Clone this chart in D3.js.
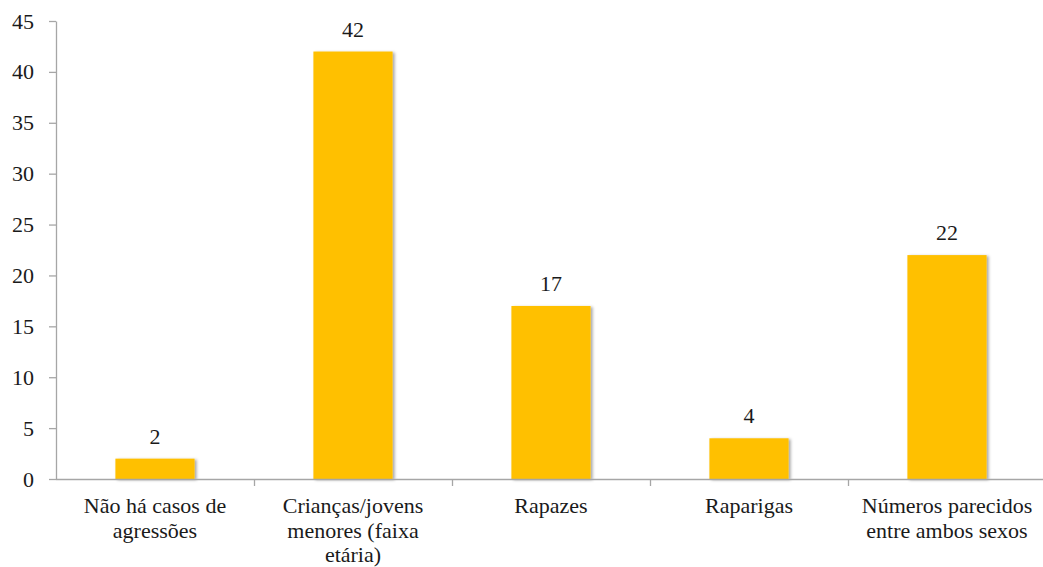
<!DOCTYPE html>
<html>
<head>
<meta charset="utf-8">
<script src="https://cdn.jsdelivr.net/npm/d3@7"></script>
<style>
body { margin: 0; background: #fff; }
</style>
</head>
<body>
<svg class="chart"></svg>
<script>
var categories = ["Não há casos de agressões", "Crianças/jovens menores (faixa etária)", "Rapazes", "Raparigas", "Números parecidos entre ambos sexos"];
var categoryLines = [
    ["Não há casos de", "agressões"],
    ["Crianças/jovens", "menores (faixa", "etária)"],
    ["Rapazes"],
    ["Raparigas"],
    ["Números parecidos", "entre ambos sexos"]
];
var values = [2, 42, 17, 4, 22];
var yTicks = [0, 5, 10, 15, 20, 25, 30, 35, 40, 45];

var fontFamily = "'Liberation Serif', 'DejaVu Serif', serif";
var fontSize = "22px";

var outerSize = {width: 1043, height: 567};
var margin = {top: 21, right: 0, bottom: 88, left: 56};
var innerSize = {width: 990, height: outerSize.height - margin.top - margin.bottom};

var svg = d3.select(".chart")
        .attr("width", outerSize.width)
        .attr("height", outerSize.height)
        .style("font-family", fontFamily);

var defs = svg.append("defs");
defs.append("filter")
        .attr("id", "shadow")
        .attr("x", "-20%").attr("y", "-20%")
        .attr("width", "140%").attr("height", "140%")
        .append("feDropShadow")
        .attr("dx", 2).attr("dy", 1)
        .attr("stdDeviation", 1.5)
        .attr("flood-color", "#000")
        .attr("flood-opacity", 0.35);

var chart = svg.append("g")
        .attr("transform", "translate(" + margin.left + "," + margin.top + ")");

var xRange = d3.scaleBand()
        .domain(categories)
        .range([0, innerSize.width])
        .padding(0);

var yRange = d3.scaleLinear()
        .domain([0, 45])
        .range([innerSize.height, 0]);

// y axis
var yAxis = chart.append("g")
        .call(d3.axisLeft(yRange).tickValues(yTicks).tickSize(7).tickPadding(15))
        .attr("font-family", null)
        .attr("font-size", null);
yAxis.select(".domain").attr("stroke", "#a6a6a6").attr("stroke-width", 1.3)
        .attr("d", "M0.5," + innerSize.height + "V0.5");
yAxis.selectAll(".tick line").attr("stroke", "#a6a6a6").attr("stroke-width", 1.3);
yAxis.selectAll(".tick text")
        .style("font-family", fontFamily)
        .style("font-size", fontSize)
        .attr("fill", "#1a1a1a");

// bars
var barWidth = xRange.bandwidth() * 0.4;
chart.selectAll(".bar")
        .data(values)
        .enter().append("rect")
        .attr("class", "bar")
        .attr("x", function (d, i) { return xRange(categories[i]) + (xRange.bandwidth() - barWidth) / 2; })
        .attr("y", function (d) { return yRange(d); })
        .attr("width", barWidth)
        .attr("height", function (d) { return innerSize.height - yRange(d); })
        .attr("fill", "#ffc000")
        .attr("filter", "url(#shadow)");

chart.selectAll(".valueLabel")
        .data(values)
        .enter().append("text")
        .attr("class", "valueLabel")
        .attr("x", function (d, i) { return xRange(categories[i]) + xRange.bandwidth() / 2; })
        .attr("y", function (d) { return yRange(d) - 15; })
        .attr("fill", "#1a1a1a")
        .style("text-anchor", "middle")
        .style("font-family", fontFamily)
        .style("font-size", fontSize)
        .text(function (d) { return d; });

// x axis: line and ticks at category boundaries
var xAxis = chart.append("g")
        .attr("transform", "translate(0," + innerSize.height + ")");
xAxis.append("line")
        .attr("x1", 0).attr("x2", innerSize.width)
        .attr("y1", 0.5).attr("y2", 0.5)
        .attr("stroke", "#a6a6a6").attr("stroke-width", 1.3);
xAxis.selectAll(".xtick")
        .data(categories.slice(1))
        .enter().append("line")
        .attr("x1", function (c) { return Math.round(xRange(c)) + 0.5; })
        .attr("x2", function (c) { return Math.round(xRange(c)) + 0.5; })
        .attr("y1", 0).attr("y2", 7)
        .attr("stroke", "#a6a6a6").attr("stroke-width", 1.3);

var labels = xAxis.selectAll(".catLabel")
        .data(categories)
        .enter().append("text")
        .attr("class", "catLabel")
        .attr("x", function (c) { return xRange(c) + xRange.bandwidth() / 2; })
        .attr("y", 34)
        .attr("fill", "#1a1a1a")
        .style("text-anchor", "middle")
        .style("font-family", fontFamily)
        .style("font-size", fontSize);
labels.selectAll("tspan")
        .data(function (c, i) { return categoryLines[i]; })
        .enter().append("tspan")
        .attr("x", function () { return d3.select(this.parentNode).attr("x"); })
        .attr("dy", function (d, i) { return i === 0 ? 0 : 24.5; })
        .text(function (d) { return d; });
</script>
</body>
</html>
